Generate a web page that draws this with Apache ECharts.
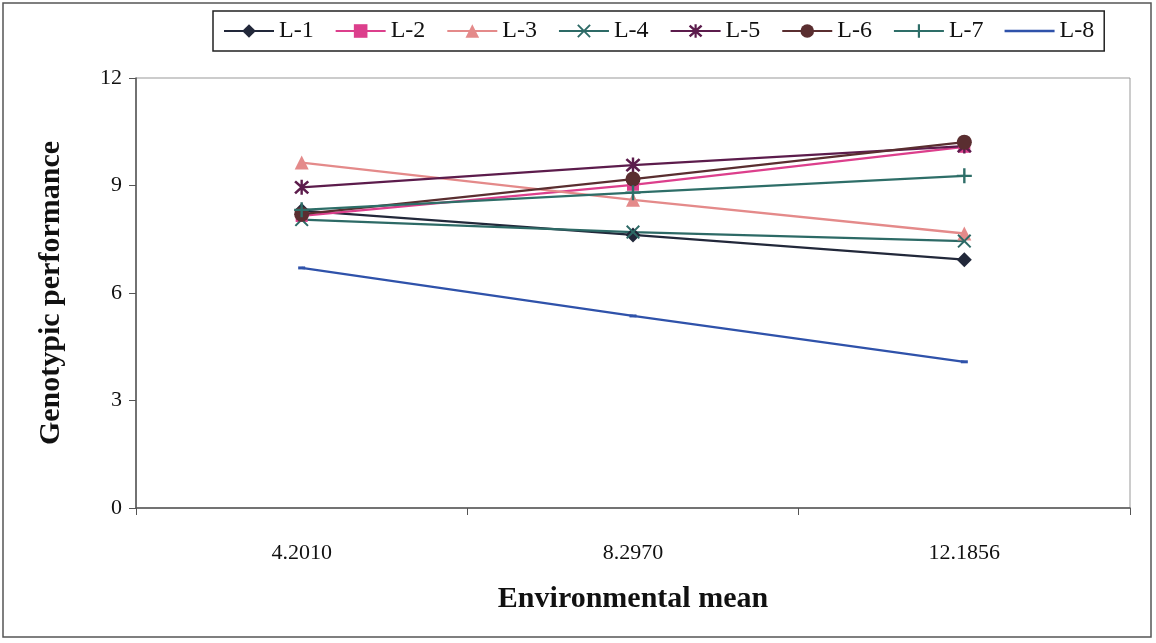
<!DOCTYPE html>
<html>
<head>
<meta charset="utf-8">
<script src="https://cdn.jsdelivr.net/npm/echarts@6/dist/echarts.min.js"></script>
<style>
  html, body { margin: 0; padding: 0; background: #fff; }
  #chart { width: 1156px; height: 643px; }
</style>
</head>
<body>
<div id="chart"></div>
<script>
// Environmental means (x categories)
const environments = ['4.2010', '8.2970', '12.1856'];

// Genotypic performance of each line across the three environments
const L1 = [8.30, 7.62, 6.93];
const L2 = [8.15, 9.02, 10.08];
const L3 = [9.64, 8.60, 7.66];
const L4 = [8.05, 7.70, 7.45];
const L5 = [8.95, 9.57, 10.10];
const L6 = [8.20, 9.18, 10.21];
const L7 = [8.32, 8.80, 9.27];
const L8 = [6.70, 5.36, 4.08];

const yTicks = { min: 0, max: 12, interval: 3 };

const serif = '"Liberation Serif", "DejaVu Serif", serif';

// marker shapes
const xMark = 'path://M0,1L1,0L5,4L9,0L10,1L6,5L10,9L9,10L5,6L1,10L0,9L4,5Z';
const starMark = 'path://M0,1.6L1.2,0.4L5,3.8L8.8,0.4L10,1.6L6.2,5L10,8.4L8.8,9.6L5,6.2L1.2,9.6L0,8.4L3.8,5ZM4.2,0H5.8V10H4.2Z';
const plusMark = 'path://M4.2,0H5.8V10H4.2ZM0,4.2H10V5.8H0Z';
const dashMark = 'path://M0,0H10V2H0Z';

function line(name, data, color, symbol, size) {
  return {
    name: name,
    type: 'line',
    data: data,
    symbol: symbol,
    symbolSize: size,
    lineStyle: { color: color, width: 2.3 },
    itemStyle: { color: color },
    emphasis: { disabled: true },
    animation: false
  };
}

const legendNames = ['L-1', 'L-2', 'L-3', 'L-4', 'L-5', 'L-6', 'L-7'];
const legendData = legendNames.map(n => ({ name: n }));
legendData.push({ name: 'L-8', icon: 'path://M0,0H20V1H0Z' });

const chart = echarts.init(document.getElementById('chart'));
chart.setOption({
  backgroundColor: '#fff',
  graphic: [{
    type: 'rect',
    shape: { x: 3, y: 3, width: 1148, height: 634 },
    style: { fill: 'none', stroke: '#555', lineWidth: 1.5 },
    silent: true
  }],
  legend: {
    left: 213,
    top: 11,
    padding: [8, 10, 8, 10],
    itemGap: 21,
    itemWidth: 50,
    itemHeight: 17,
    borderColor: '#222',
    borderWidth: 1.5,
    textStyle: { fontFamily: serif, fontSize: 24, color: '#111' },
    data: legendData
  },
  grid: { left: 136, right: 26, top: 78, bottom: 135, show: true, borderColor: '#999', borderWidth: 1 },
  xAxis: {
    type: 'category',
    data: environments,
    boundaryGap: true,
    name: 'Environmental mean',
    nameLocation: 'middle',
    nameGap: 76,
    nameTextStyle: { fontFamily: serif, fontSize: 30, fontWeight: 'bold', color: '#111' },
    axisLine: { lineStyle: { color: '#555', width: 1.5 } },
    axisTick: { show: true, length: 7, lineStyle: { color: '#555' } },
    axisLabel: { fontFamily: serif, fontSize: 22, color: '#111', margin: 34 },
    splitLine: { show: false }
  },
  yAxis: {
    type: 'value',
    min: yTicks.min,
    max: yTicks.max,
    interval: yTicks.interval,
    name: 'Genotypic performance',
    nameLocation: 'middle',
    nameGap: 70,
    nameTextStyle: { fontFamily: serif, fontSize: 30, fontWeight: 'bold', color: '#111' },
    axisLine: { show: true, lineStyle: { color: '#555', width: 1.5 } },
    axisTick: { show: true, length: 7, inside: false, lineStyle: { color: '#555' } },
    axisLabel: { fontFamily: serif, fontSize: 22, color: '#111', margin: 14 },
    splitLine: { show: false }
  },
  series: [
    line('L-1', L1, '#22283a', 'diamond', 15),
    line('L-2', L2, '#dc3f8c', 'rect', 12),
    line('L-3', L3, '#e48a8a', 'triangle', 14),
    line('L-4', L4, '#2d6a66', xMark, 14),
    line('L-5', L5, '#5c1c4c', starMark, 15),
    line('L-6', L6, '#5a2e30', 'circle', 15),
    line('L-7', L7, '#2e6e68', plusMark, 15),
    line('L-8', L8, '#2f52aa', dashMark, [7, 3])
  ]
});
</script>
</body>
</html>
